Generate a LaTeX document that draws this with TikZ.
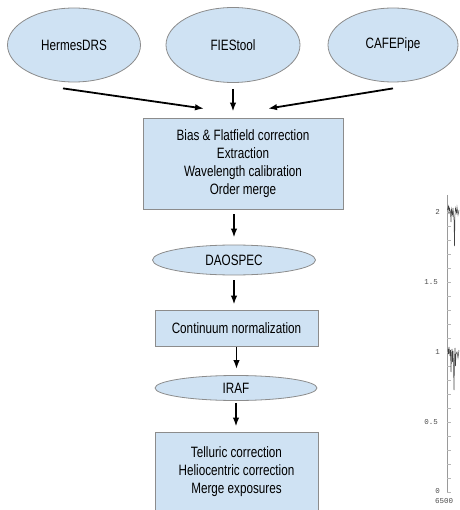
\documentclass[tikz,border=0pt]{standalone}
\usepackage{fontspec}
\setmainfont{Liberation Sans}[FakeStretch=0.78]
\newfontfamily\plotfont{Liberation Mono}
\usepackage{xcolor}
\definecolor{flowFill}{HTML}{CFE2F3}
\definecolor{flowEdge}{HTML}{8C8C8C}
\definecolor{plotGray}{HTML}{9A9A9A}
\definecolor{specGray}{HTML}{404040}
\usepackage{tikz}
\usetikzlibrary{arrows.meta, positioning, shapes.geometric, calc}

\begin{document}
\begin{tikzpicture}[
  x=1pt, y=-1pt,
  every node/.style={font=\fontsize{15}{18}\selectfont},
  tool/.style={ellipse, draw=flowEdge, fill=flowFill, line width=0.8pt, inner sep=0pt},
  stage/.style={rectangle, draw=flowEdge, fill=flowFill, line width=0.8pt,
                inner sep=0pt, align=center},
  flow/.style={-{Latex[length=9pt,width=6.5pt]}, line width=1.8pt, black},
  plotlbl/.style={font=\plotfont\fontsize{7.5}{8}\selectfont, text=black!70, inner sep=0pt}
]
\useasboundingbox (0,0) rectangle (459,510);
\clip (0,0) rectangle (459,510);
\node[tool, minimum width=133, minimum height=74] (hermes) at (74,45) {HermesDRS};
\node[tool, minimum width=134, minimum height=75] (fies)   at (233,45) {FIEStool};
\node[tool, minimum width=130, minimum height=74] (cafe)   at (393,45) {CAFEPipe};
\node[stage, minimum width=200, minimum height=91] (merge) at (243,163.5)
  {Bias \& Flatfield correction\\ Extraction\\ Wavelength calibration\\ Order merge};
\node[tool, minimum width=163, minimum height=30] (daospec) at (234,260) {DAOSPEC};
\node[stage, minimum width=163, minimum height=36] (norm) at (236.5,328) {Continuum normalization};
\node[tool, minimum width=162, minimum height=25] (iraf) at (236,388) {IRAF};
\node[stage, minimum width=163, minimum height=80] (final) at (236.5,472)
  {Telluric correction\\ Heliocentric correction\\ Merge exposures};
\draw[flow] ([xshift=-11pt, yshift=-6pt]hermes.south) -- ([xshift=-39pt, yshift=9pt]merge.north);
\draw[flow] ([yshift=-6pt]fies.south) -- ([yshift=6pt]fies.south |- merge.north);
\draw[flow] ([yshift=-6pt]cafe.south) -- ([xshift=25pt, yshift=9pt]merge.north);
\draw[flow] ([yshift=-5pt]daospec.north |- merge.south) -- ([yshift=7pt]daospec.north);
\draw[flow] ([yshift=-5pt]daospec.south) -- ([yshift=5pt]daospec.south |- norm.north);
\draw[flow] ([yshift=-1pt]norm.south) -- ([yshift=6pt]norm.south |- iraf.north);
\draw[flow] ([yshift=-2pt]iraf.south) -- ([yshift=5pt]iraf.south |- final.north);
\draw[plotGray, line width=0.6pt] (447,195) -- (447,493);
\foreach \v in {0,1,...,20}
  \draw[plotGray!70, line width=0.4pt] (447,{492-14*\v}) -- ++(4,0);
\node[plotlbl, anchor=east] (ytwo)   at (440,212) {2};
\node[plotlbl, anchor=east] (yonefive) at (438,282) {1.5};
\node[plotlbl, anchor=east] (yone)   at (440,352) {1};
\node[plotlbl, anchor=east] (yhalf)  at (438,422) {0.5};
\node[plotlbl, anchor=east] (yzero)  at (440,491) {0};
\node[plotlbl, anchor=west] (xstart) at (435,501) {6500};
\draw[specGray, line width=0.5pt] (447.5,210) -- (448.5,206) -- (449,214) -- (449.5,208)
  -- (450.5,212) -- (451,222) -- (451.5,209) -- (452.5,215) -- (453,208) -- (454,220)
  -- (454.5,246) -- (455,214) -- (455.5,208) -- (456.5,213) -- (457,207) -- (458,215) -- (459,210);
\draw[specGray, line width=0.5pt] (448,349) -- (448.5,354) -- (449,347) -- (450,356)
  -- (450.5,350) -- (451,372) -- (451.5,355) -- (452,349) -- (452.5,362) -- (453,351)
  -- (453.5,366) -- (454,390) -- (454.5,360) -- (455,348) -- (455.5,366) -- (456,354)
  -- (457,352) -- (458,358) -- (459,350);
\end{tikzpicture}
\end{document}
